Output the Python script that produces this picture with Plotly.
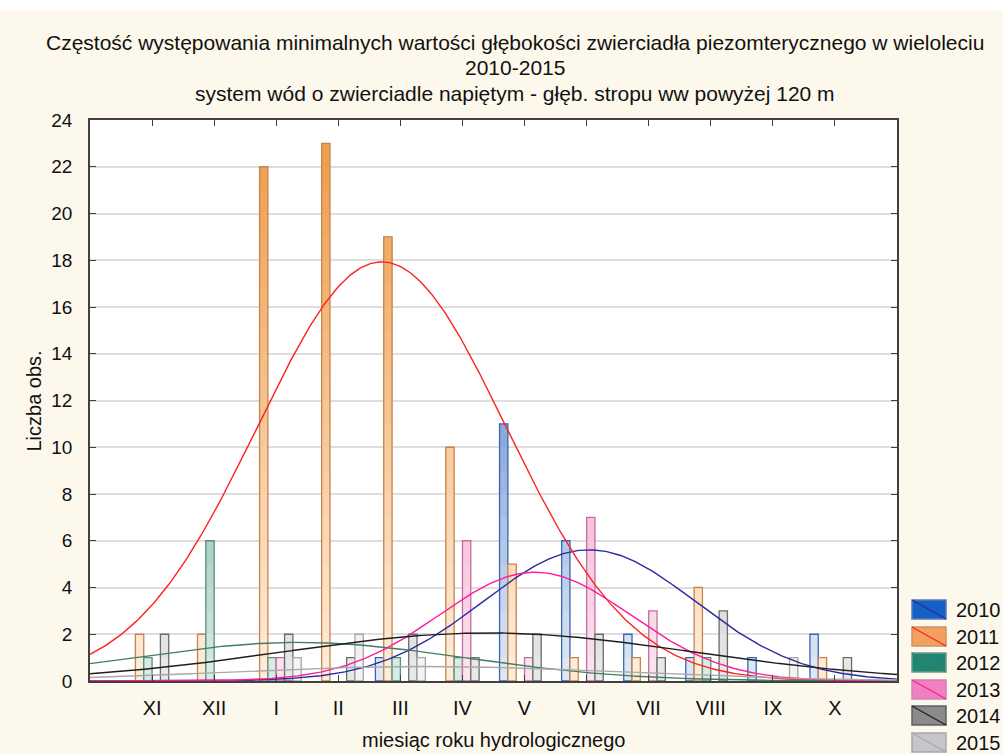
import numpy as np
import plotly.graph_objects as go

# Hydrological-year months (November .. October), plotted at positions 1..12
months = ["XI", "XII", "I", "II", "III", "IV", "V", "VI", "VII", "VIII", "IX", "X"]
years = ["2010", "2011", "2012", "2013", "2014", "2015"]

# Number of observations of the minimum piezometric depth per month
counts_2010 = [0, 0, 0, 0, 1, 0, 11, 6, 2, 1, 1, 2]
counts_2011 = [2, 2, 22, 23, 19, 10, 5, 1, 1, 4, 0, 1]
counts_2012 = [1, 6, 1, 0, 1, 1, 0, 0, 0, 1, 0, 0]
counts_2013 = [0, 0, 1, 0, 0, 6, 1, 7, 3, 0, 0, 0]
counts_2014 = [2, 0, 2, 1, 2, 1, 2, 2, 1, 3, 0, 1]
counts_2015 = [0, 0, 1, 2, 1, 0, 0, 0, 0, 0, 1, 0]

series = {
    "2010": counts_2010,
    "2011": counts_2011,
    "2012": counts_2012,
    "2013": counts_2013,
    "2014": counts_2014,
    "2015": counts_2015,
}

# Bar gradient ends (pale at the baseline, saturated high up), bar edges,
# fitted-curve colours and legend swatch colours
pale = {"2010": "#e2eaf6", "2011": "#fdeedd", "2012": "#dcede7",
        "2013": "#fde6f0", "2014": "#ebebeb", "2015": "#f5f5f5"}
deep = {"2010": "#2f62bd", "2011": "#eea052", "2012": "#1f8070",
        "2013": "#ee6aa6", "2014": "#7c7c7c", "2015": "#b4b4b4"}
edge = {"2010": "#3a66b0", "2011": "#c8844a", "2012": "#5a8c7c",
        "2013": "#c070a0", "2014": "#6c6c6c", "2015": "#a6a6a6"}
curve = {"2010": "#2a2aa0", "2011": "#ff2020", "2012": "#3f7f5c",
         "2013": "#ff1a9a", "2014": "#1e1e1e", "2015": "#a9a9a9"}
swatch = {"2010": "#1560c4", "2011": "#f2a060", "2012": "#1f8676",
          "2013": "#f080c0", "2014": "#8a8a8a", "2015": "#c6c6ca"}
swatch_edge = {"2010": "#5a7ab8", "2011": "#d09060", "2012": "#6a9a8c",
               "2013": "#d080b0", "2014": "#606060", "2015": "#a8a8ac"}

Y_MAX = 24
X_MIN, X_MAX = 0, 13
font_family = "Liberation Sans, Arial, sans-serif"


def hex_rgb(h):
    h = h.lstrip("#")
    return np.array([int(h[i:i + 2], 16) for i in (0, 2, 4)], dtype=float)


def shade(year, level):
    t = min(max(level / 22.0, 0.0), 1.0)
    c = hex_rgb(pale[year]) + (hex_rgb(deep[year]) - hex_rgb(pale[year])) * t
    return "rgb(%d,%d,%d)" % tuple(np.round(c).astype(int))


x_pos = np.arange(1, len(months) + 1)
fig = go.Figure()

# Bars: stacked one-unit bands per year give each bar a vertical gradient
for year in years:
    c = np.array(series[year], dtype=float)
    for lv in range(int(c.max())):
        h = np.where(c > lv, c - lv, np.nan)
        fig.add_trace(go.Bar(
            x=x_pos, y=h, base=lv, offsetgroup=year,
            marker=dict(color=shade(year, lv + 0.5), line=dict(width=0)),
            showlegend=False, hoverinfo="skip"))
    # outline of the bars
    fig.add_trace(go.Bar(
        x=x_pos, y=np.where(c > 0, c, np.nan), offsetgroup=year,
        marker=dict(color="rgba(0,0,0,0)", line=dict(color=edge[year], width=1.3)),
        name=year, showlegend=False))

# Normal curves fitted to each year's monthly distribution (bin width = 1 month)
xs = np.linspace(X_MIN, X_MAX, 400)
for year in years:
    c = np.array(series[year], dtype=float)
    n = c.sum()
    mean = (c * x_pos).sum() / n
    sd = np.sqrt((c * (x_pos - mean) ** 2).sum() / (n - 1))
    ys = n / (sd * np.sqrt(2 * np.pi)) * np.exp(-0.5 * ((xs - mean) / sd) ** 2)
    fig.add_trace(go.Scatter(
        x=xs, y=ys, mode="lines", line=dict(color=curve[year], width=1.4),
        showlegend=False, hoverinfo="skip"))

# Pixel geometry of the plotting frame, used for placing extra text/legend
W, H = 1003, 754
L, R, T, B = 90, 897, 120, 681


def xp(px):
    return (px - L) / (R - L)


def yp(py):
    return (B - py) / (B - T)


shapes = []
annotations = []

# Legend built from swatches with a diagonal stroke in the curve colour
legend_top = [600, 627, 653, 680, 706, 733]
for year, top in zip(years, legend_top):
    x0, x1, y0, y1 = xp(912), xp(946), yp(top + 19), yp(top)
    shapes.append(dict(type="rect", xref="paper", yref="paper",
                       x0=x0, x1=x1, y0=y0, y1=y1,
                       fillcolor=swatch[year],
                       line=dict(color=swatch_edge[year], width=1.5)))
    shapes.append(dict(type="line", xref="paper", yref="paper",
                       x0=x0, x1=x1, y0=y1, y1=y0,
                       line=dict(color=curve[year], width=1.2)))
    annotations.append(dict(xref="paper", yref="paper", x=xp(954), y=yp(top + 10),
                            text=year, showarrow=False, xanchor="left",
                            yanchor="middle",
                            font=dict(size=20, color="#111111", family=font_family)))

# Thin white strip along the top edge of the page
shapes.append(dict(type="rect", xref="paper", yref="paper",
                   x0=xp(0), x1=xp(W), y0=yp(10), y1=yp(0),
                   fillcolor="#ffffff", line=dict(width=0)))

# Three-line heading, one annotation per line
title_lines = [
    ("Częstość występowania minimalnych wartości głębokości zwierciadła "
     "piezomterycznego w wieloleciu", 42),
    ("2010-2015", 67),
    ("system wód o zwierciadle napiętym - głęb. stropu ww powyżej 120 m", 93),
]
for text, ypix in title_lines:
    annotations.append(dict(xref="paper", yref="paper", x=xp(515), y=yp(ypix),
                            text=text, showarrow=False,
                            xanchor="center", yanchor="middle",
                            font=dict(size=21, color="#111111", family=font_family)))

annotations.append(dict(xref="paper", yref="paper", x=0.5, y=yp(740),
                        text="miesiąc roku hydrologicznego", showarrow=False,
                        xanchor="center", yanchor="middle",
                        font=dict(size=20, color="#111111", family=font_family)))
annotations.append(dict(xref="paper", yref="paper", x=xp(33), y=0.5,
                        text="Liczba obs.", showarrow=False, textangle=-90,
                        xanchor="center", yanchor="middle",
                        font=dict(size=20, color="#111111", family=font_family)))

fig.update_layout(
    width=W, height=H,
    margin=dict(l=L, r=W - R, t=T, b=H - B, pad=0),
    paper_bgcolor="#fdf8ec",
    plot_bgcolor="#ffffff",
    barmode="group",
    bargap=0.195,
    bargroupgap=0.0,
    showlegend=False,
    font=dict(family=font_family, size=20, color="#111111"),
    shapes=shapes,
    annotations=annotations,
)

fig.update_xaxes(
    range=[X_MIN, X_MAX], tickmode="array", tickvals=x_pos, ticktext=months,
    ticks="inside", ticklen=6, tickwidth=1.3, tickcolor="#404040",
    showline=True, linecolor="#404040", linewidth=1.6, mirror="ticks",
    showgrid=False, zeroline=False, ticklabelstandoff=8,
    tickfont=dict(size=20, color="#111111"))
fig.update_yaxes(
    range=[0, Y_MAX], dtick=2, tick0=0,
    ticks="inside", ticklen=6, tickwidth=1.3, tickcolor="#404040",
    showline=True, linecolor="#404040", linewidth=1.6, mirror="ticks",
    showgrid=True, gridcolor="#dedede", gridwidth=1.6, zeroline=False,
    ticklabelstandoff=12,
    tickfont=dict(size=19, color="#111111"))

fig.write_html("out.html")
